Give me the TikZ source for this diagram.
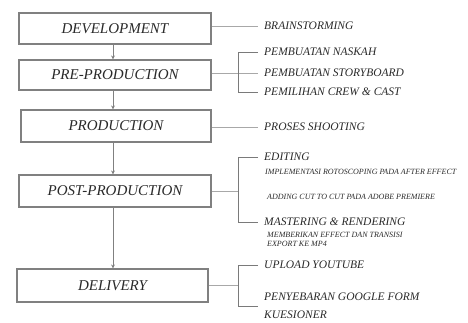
\documentclass[tikz,border=0pt]{standalone}
\usepackage{fontspec}
\setmainfont{Liberation Serif}
\usetikzlibrary{arrows.meta}
\definecolor{boxgray}{HTML}{808080}
\definecolor{linegray}{HTML}{A8A8A8}
\definecolor{brgray}{HTML}{7A7A7A}
\definecolor{txt}{HTML}{2A2A2A}
\begin{document}
\begin{tikzpicture}[x=1pt,y=-1pt,
  box/.style={draw=boxgray, line width=1.1pt, inner sep=0pt, font=\itshape\fontsize{15}{15}\selectfont, text=txt},
  lbl/.style={anchor=west, inner sep=0pt, font=\itshape\fontsize{11.5}{12}\selectfont, text=txt},
  sml/.style={anchor=west, inner sep=0pt, font=\itshape\fontsize{8}{9}\selectfont, text=txt},
  conn/.style={draw=linegray, line width=0.9pt},
  brk/.style={draw=brgray, line width=1pt},
  arr/.style={draw=boxgray, line width=0.9pt, -{Stealth[length=4pt,width=4pt]}}]
\useasboundingbox (0,0) rectangle (468,322);
% boxes
\node[box, minimum width=192pt, minimum height=31pt] (dev) at (115,28.5) {DEVELOPMENT};
\node[box, minimum width=192pt, minimum height=30pt] (pre) at (115,75) {PRE-PRODUCTION};
\node[box, minimum width=190pt, minimum height=32pt] (prod) at (116,126) {PRODUCTION};
\node[box, minimum width=192pt, minimum height=32pt] (post) at (115,191) {POST-PRODUCTION};
\node[box, minimum width=191pt, minimum height=33pt] (del) at (112.5,285.5) {DELIVERY};
% arrows
\coordinate (ax) at (113,0);
\draw[arr] (ax |- dev.south) -- (ax |- pre.north);
\draw[arr] (ax |- pre.south) -- (ax |- prod.north);
\draw[arr] (ax |- prod.south) -- (ax |- post.north);
\draw[arr] (ax |- post.south) -- (ax |- del.north);
% labels
\node[lbl] (brain) at (264,26) {BRAINSTORMING};
\node[lbl] (naskah) at (264,52) {PEMBUATAN NASKAH};
\node[lbl] (story) at (264,73) {PEMBUATAN STORYBOARD};
\node[lbl] (crew) at (264,92) {PEMILIHAN CREW \& CAST};
\node[lbl] (shoot) at (264,127) {PROSES SHOOTING};
\node[lbl] (edit) at (264,157) {EDITING};
\node[sml] (roto) at (265,172) {IMPLEMENTASI ROTOSCOPING PADA AFTER EFFECT};
\node[sml] (cut) at (267,197) {ADDING CUT TO CUT PADA ADOBE PREMIERE};
\node[lbl] (master) at (264,222) {MASTERING \& RENDERING};
\node[sml] (efek) at (267,235) {MEMBERIKAN EFFECT DAN TRANSISI};
\node[sml] (mp4) at (267,244) {EXPORT KE MP4};
\node[lbl] (yt) at (264,265) {UPLOAD YOUTUBE};
\node[lbl] (gform) at (264,297) {PENYEBARAN GOOGLE FORM};
\node[lbl] (kues) at (264,315) {KUESIONER};
% connectors
\coordinate (pb) at (238,0);
\coordinate (kb) at (258,306);
\draw[conn] (dev.east |- brain.west) -- ([xshift=-6pt]brain.west);
\draw[conn] (pre.east |- story.west) -- ([xshift=-6pt]story.west);
\draw[brk] ([xshift=-6pt]naskah.west) -- (pb |- naskah.west) -- (pb |- crew.west) -- ([xshift=-6pt]crew.west);
\draw[conn] (prod.east |- shoot.west) -- ([xshift=-6pt]shoot.west);
\draw[conn] (post.east) -- (pb |- post.east);
\draw[brk] ([xshift=-6pt]edit.west) -- (pb |- edit.west) -- (pb |- master.west) -- ([xshift=-6pt]master.west);
\draw[conn] (del.east) -- (pb |- del.east);
\draw[brk] ([xshift=-6pt]yt.west) -- (pb |- yt.west) -- (pb |- kb) -- (kb);
\end{tikzpicture}
\end{document}
